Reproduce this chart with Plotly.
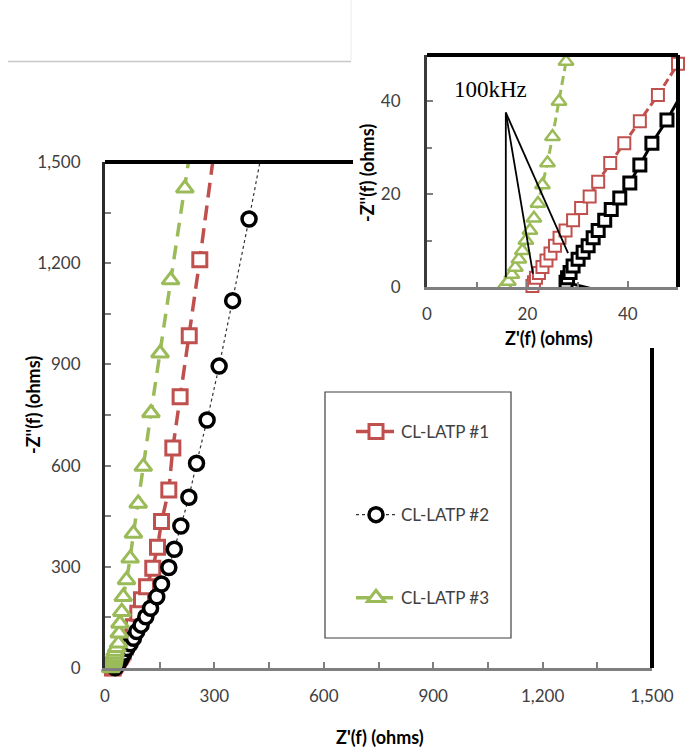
import plotly.graph_objects as go

W, H = 694, 753

# ---------------- data (Z' , -Z'') in ohms ----------------
names = ["CL-LATP #1", "CL-LATP #2", "CL-LATP #3"]

red_x = [21.0, 21.3, 21.7, 22.3, 23.0, 23.8, 24.6, 25.5, 26.4, 27.6, 29.1, 30.7, 32.4, 34.1, 36.5,
         39.3, 42.4, 46.0, 50.0, 56, 66, 78, 90, 100, 114, 131, 144, 155, 175, 186, 206, 231, 260, 299]
red_y = [0.2, 1.0, 2.0, 3.0, 4.3, 5.7, 7.2, 8.9, 10.6, 12.2, 14.4, 17.0, 19.5, 22.7, 26.7,
         31.0, 35.7, 41.4, 48.1, 62, 90, 122, 162, 202, 241, 296, 358, 434, 528, 652, 804, 985, 1210, 1530]

black_x = [35.1, 27.7, 28.0, 28.5, 29.1, 30.1, 31.1, 32.1, 33.1, 34.1, 35.4, 36.7, 38.4, 40.4, 42.4,
           44.8, 47.8, 52, 60, 69, 78, 87, 99, 112, 125, 142, 155, 175, 190, 208, 230, 251, 280,
           313, 350, 395, 432]
black_y = [-1.0, 1.0, 2.0, 3.1, 4.5, 6.0, 7.5, 8.9, 10.6, 12.2, 14.4, 16.7, 19.2, 22.4, 26.3,
           31.0, 36.0, 44, 58, 72, 88, 108, 127, 152, 177, 211, 249, 298, 352, 421, 506, 607, 735,
           895, 1089, 1331, 1540]

green_x = [15.5, 16.2, 16.9, 17.6, 18.3, 19.0, 19.7, 20.5, 21.3, 22.1, 23.0, 24.0, 25.0, 26.3, 27.7,
           32, 37, 39, 41, 46, 50, 59, 69, 78, 91, 105, 126, 151, 180, 219, 233]
green_y = [0.3, 1.2, 2.7, 4.2, 6.0, 7.8, 10.0, 12.2, 14.8, 18.0, 22.0, 26.7, 32.4, 40.0, 48.6,
           60, 73, 103, 132, 167, 211, 261, 325, 399, 488, 597, 756, 933, 1150, 1422, 1530]

main_ticks = [0, 300, 600, 900, 1200, 1500]
inset_ticks = [0, 20, 40]
main_range = [0, 1500]
inset_range = [0, 50]

RED, GREEN, BLACK = "#C0504D", "#9BBB59", "#000000"
FONT = "Lato"
TXT = "#404040"

def px(x):
    return x / W

def py(y):
    return 1 - y / H

def in_range(xs, ys, r):
    pts = [(a, b) for a, b in zip(xs, ys) if r[0] <= a <= r[1] and r[0] <= b <= r[1]]
    return [p[0] for p in pts], [p[1] for p in pts]

main_style = [
    dict(color=RED, lcolor=RED, dash="15px,8px", lw=3.5, symbol="square", size=14, mlw=3),
    dict(color=BLACK, lcolor="#333333", dash="3px,3px", lw=1.2, symbol="circle", size=14, mlw=3.5),
    dict(color=GREEN, lcolor=GREEN, dash="14px,9px", lw=3.5, symbol="triangle-up", size=15, mlw=3),
]
inset_style = [
    dict(color=RED, lcolor=RED, dash="8px,4px", lw=3, symbol="square", size=12, mlw=2),
    dict(color=BLACK, lcolor=BLACK, dash="solid", lw=3, symbol="square", size=12, mlw=3),
    dict(color=GREEN, lcolor=GREEN, dash="9px,5px", lw=3, symbol="triangle-up", size=13, mlw=2.5),
]
data = [(red_x, red_y), (black_x, black_y), (green_x, green_y)]

fig = go.Figure()

for i, (xs, ys) in enumerate(data):
    s = main_style[i]
    fig.add_trace(go.Scatter(x=xs, y=ys, mode="lines", xaxis="x", yaxis="y", showlegend=False,
                             line=dict(color=s["lcolor"], width=s["lw"], dash=s["dash"])))
    mx, my = in_range(xs, ys, main_range)
    fig.add_trace(go.Scatter(x=mx, y=my, mode="markers", xaxis="x", yaxis="y", showlegend=False,
                             cliponaxis=False,
                             marker=dict(symbol=s["symbol"], size=s["size"], color="white",
                                         line=dict(color=s["color"], width=s["mlw"]))))
    fig.add_trace(go.Scatter(x=[None], y=[None], mode="lines+markers", name=names[i],
                             legendgroup=names[i], xaxis="x", yaxis="y",
                             line=dict(color=s["lcolor"], width=max(s["lw"], 1.2), dash=s["dash"]),
                             marker=dict(symbol=s["symbol"], size=s["size"], color="white",
                                         line=dict(color=s["color"], width=s["mlw"]))))

for i, (xs, ys) in enumerate(data):
    s = inset_style[i]
    fig.add_trace(go.Scatter(x=xs, y=ys, mode="lines", xaxis="x2", yaxis="y2", showlegend=False,
                             line=dict(color=s["lcolor"], width=s["lw"], dash=s["dash"])))
    mx, my = in_range(xs, ys, inset_range)
    fig.add_trace(go.Scatter(x=mx, y=my, mode="markers", xaxis="x2", yaxis="y2", showlegend=False,
                             cliponaxis=False,
                             marker=dict(symbol=s["symbol"], size=s["size"], color="white",
                                         line=dict(color=s["color"], width=s["mlw"]))))

tickfont = dict(family=FONT, size=17, color=TXT)
axis_common = dict(showgrid=False, zeroline=False, showline=True, ticks="inside", ticklen=6,
                   tickwidth=1.5, tickcolor="#7f7f7f", tickfont=tickfont, tickformat=",d",
                   automargin=False)

fig.update_layout(
    template="none",
    width=W, height=H, margin=dict(l=0, r=0, t=0, b=0, pad=0, autoexpand=False),
    paper_bgcolor="white", plot_bgcolor="rgba(0,0,0,0)",
    xaxis=dict(axis_common, domain=[px(105), px(652)], range=main_range, tickvals=main_ticks,
               minor=dict(dtick=150, ticks="inside", ticklen=6, tickcolor="#7f7f7f"),
               linecolor="#7f7f7f", linewidth=3, anchor="y", ticklabelstandoff=11),
    yaxis=dict(axis_common, domain=[py(668), py(162)], range=main_range, tickvals=main_ticks,
               minor=dict(dtick=150, ticks="inside", ticklen=6, tickcolor="#7f7f7f"),
               linecolor="#2a2a2a", linewidth=3, anchor="x", ticklabelstandoff=18),
    xaxis2=dict(axis_common, domain=[px(427), px(678)], range=inset_range, tickvals=inset_ticks,
                minor=dict(dtick=10, ticks="inside", ticklen=5, tickcolor="#7f7f7f"),
                linecolor="#7f7f7f", linewidth=3, anchor="y2", ticklabelstandoff=10),
    yaxis2=dict(axis_common, domain=[py(287), py(55)], range=inset_range, tickvals=inset_ticks,
                minor=dict(dtick=10, ticks="inside", ticklen=5, tickcolor="#7f7f7f"),
                linecolor="#3a3a3a", linewidth=3, anchor="x2", ticklabelstandoff=20),
    legend=dict(x=px(351), y=py(414), xanchor="left", yanchor="top", bgcolor="rgba(0,0,0,0)",
                borderwidth=0,
                font=dict(family=FONT, size=17, color=TXT), tracegroupgap=58,
                traceorder="grouped", itemwidth=40),
    showlegend=True,
)

shapes = [
    # main plot top / right frame pieces
    dict(type="line", xref="x domain", yref="y domain", x0=0, x1=(353 - 105) / 547, y0=1, y1=1,
         line=dict(color="black", width=4)),
    dict(type="line", xref="x domain", yref="y domain", x0=1, x1=1, y0=0, y1=(668 - 348) / 506,
         line=dict(color="black", width=4)),
    # inset top / right frame
    dict(type="line", xref="x2 domain", yref="y2 domain", x0=0, x1=1, y0=1, y1=1,
         line=dict(color="black", width=4)),
    dict(type="line", xref="x2 domain", yref="y2 domain", x0=1, x1=1, y0=0, y1=1,
         line=dict(color="black", width=4)),
    # faint picture frame
    dict(type="line", xref="paper", yref="paper", x0=px(8), x1=px(351), y0=py(61.5), y1=py(61.5),
         line=dict(color="#c8c8c8", width=1.5)),
    dict(type="line", xref="paper", yref="paper", x0=px(351), x1=px(351), y0=py(0), y1=py(61),
         line=dict(color="#ececec", width=1)),
    # legend box
    dict(type="rect", xref="paper", yref="paper", x0=px(325), x1=px(511), y0=py(638), y1=py(392),
         line=dict(color="#404040", width=1.2), fillcolor="rgba(0,0,0,0)"),
]
# 100kHz pointer lines (inset coordinates)
for ex, ey in [(15.7, 2.1), (21.1, 2.9), (28.1, 7.3)]:
    shapes.append(dict(type="line", xref="x2", yref="y2", x0=15.7, y0=37.6, x1=ex, y1=ey,
                       layer="above", line=dict(color="black", width=1.8)))
fig.update_layout(shapes=shapes)

title_font = dict(family=FONT, size=18, color="black", weight="bold")
fig.update_layout(annotations=[
    dict(text="Z'(f) (ohms)", xref="paper", yref="paper", x=px(380), y=py(737), showarrow=False,
         font=title_font, xanchor="center", yanchor="middle"),
    dict(text="-Z''(f) (ohms)", xref="paper", yref="paper", x=px(33), y=py(405), showarrow=False,
         font=title_font, textangle=-90, xanchor="center", yanchor="middle"),
    dict(text="Z'(f) (ohms)", xref="paper", yref="paper", x=px(549), y=py(338), showarrow=False,
         font=title_font, xanchor="center", yanchor="middle"),
    dict(text="-Z''(f) (ohms)", xref="paper", yref="paper", x=px(367), y=py(173), showarrow=False,
         font=title_font, textangle=-90, xanchor="center", yanchor="middle"),
    dict(text="100kHz", xref="x2", yref="y2", x=12.6, y=42.5, showarrow=False,
         font=dict(family="Liberation Serif", size=23, color="black"),
         xanchor="center", yanchor="middle"),
])

fig.write_html("out.html")
